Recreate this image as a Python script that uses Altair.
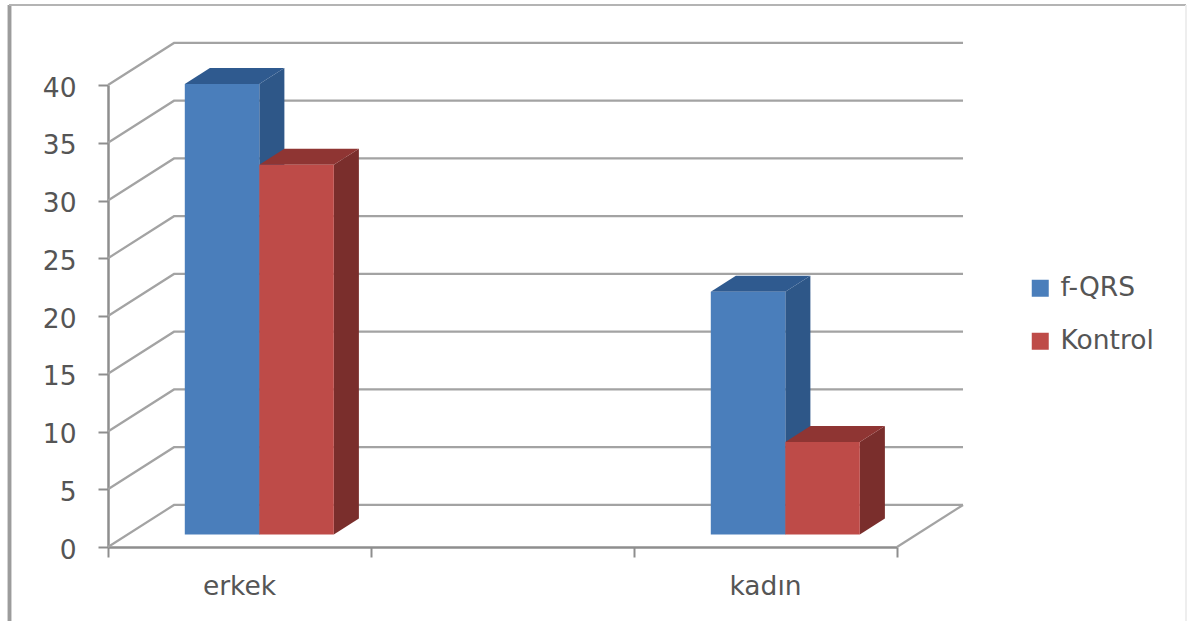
import altair as alt
import pandas as pd

# Chart values
categories = ["erkek", "", "kadın"]
series = ["f-QRS", "Kontrol"]
f_qrs = [39, None, 21]
kontrol = [32, None, 8]
y_ticks = [0, 5, 10, 15, 20, 25, 30, 35, 40]

# Colours per series: front, top and side faces
face_colors = {"f-QRS": "#4A7EBB", "Kontrol": "#BE4B48"}
top_colors = {"f-QRS": "#2F5A8F", "Kontrol": "#8F3533"}
side_colors = {"f-QRS": "#2E5788", "Kontrol": "#7A2E2C"}
GRID = "#A3A3A3"
AXIS = "#8E8E8E"
TEXT = "#555555"
FONT = "DejaVu Sans"
FONT_SIZE = 26.5

# Oblique projection: depth 0..1 shifts a point along x (category units) and y (value units)
DX = 0.251
DV = 3.64
BAR_D0 = 0.30
BAR_D1 = 0.68
BAR_W = 0.2833


def px(x, d):
    return x + d * DX


def pv(v, d):
    return v + d * DV


# Back wall and side wall grid lines, one polyline per tick
grid_rows = []
for v in y_ticks:
    grid_rows.append({"tick": v, "i": 0, "x": px(0, 0), "v": pv(v, 0)})
    grid_rows.append({"tick": v, "i": 1, "x": px(0, 1), "v": pv(v, 1)})
    grid_rows.append({"tick": v, "i": 2, "x": px(3, 1), "v": pv(v, 1)})
grid_df = pd.DataFrame(grid_rows)

# Right-hand edge of the floor
floor_df = pd.DataFrame(
    [{"i": 0, "x": px(3, 0), "v": pv(0, 0)}, {"i": 1, "x": px(3, 1), "v": pv(0, 1)}]
)


def bar_layers(name, values, left_shift):
    """Top, side and front faces for one series."""
    front, side, top = [], [], []
    for idx, (cat, val) in enumerate(zip(categories, values)):
        if val is None:
            continue
        x0 = idx + 0.5 + left_shift * BAR_W
        x1 = x0 + BAR_W
        front.append(
            {
                "series": name,
                "category": cat,
                "x": px(x0, BAR_D0),
                "x2": px(x1, BAR_D0),
                "v": pv(val, BAR_D0),
                "v2": pv(0, BAR_D0),
            }
        )
        for d in (BAR_D0, BAR_D1):
            side.append(
                {"category": cat, "x": px(x1, d), "v": pv(val, d), "v2": pv(0, d)}
            )
            top.append(
                {"category": cat, "x": px(x0, d), "x2": px(x1, d), "v": pv(val, d)}
            )
    side_layer = (
        alt.Chart(pd.DataFrame(side))
        .mark_area(color=side_colors[name], opacity=1)
        .encode(
            x=alt.X("x:Q"),
            y=alt.Y("v:Q"),
            y2="v2:Q",
            detail="category:N",
        )
    )
    top_layer = (
        alt.Chart(pd.DataFrame(top))
        .mark_area(color=top_colors[name], orient="horizontal", opacity=1)
        .encode(
            y=alt.Y("v:Q"),
            x=alt.X("x:Q"),
            x2="x2:Q",
            detail="category:N",
        )
    )
    front_layer = (
        alt.Chart(pd.DataFrame(front))
        .mark_rect()
        .encode(
            x=alt.X("x:Q"),
            x2="x2:Q",
            y=alt.Y("v:Q"),
            y2="v2:Q",
            color=alt.Color(
                "series:N",
                scale=alt.Scale(
                    domain=series, range=[face_colors[s] for s in series]
                ),
                legend=alt.Legend(
                    title=None,
                    orient="none",
                    legendX=919,
                    legendY=190,
                    symbolType="square",
                    symbolSize=289,
                    symbolStrokeWidth=0,
                    labelFont=FONT,
                    labelFontSize=FONT_SIZE,
                    labelColor=TEXT,
                    labelOffset=7,
                    rowPadding=26,
                ),
            ),
        )
    )
    return [side_layer, top_layer, front_layer]


x_scale = alt.Scale(domain=[0, 3], nice=False, zero=False)
y_scale = alt.Scale(domain=[0, 40], nice=False, zero=False)

# Axes are carried by an otherwise invisible base layer
axis_df = pd.DataFrame({"x": [0, 3], "v": [0, 40]})
axes = (
    alt.Chart(axis_df)
    .mark_point(opacity=0)
    .encode(
        x=alt.X(
            "x:Q",
            scale=x_scale,
            title=None,
            axis=alt.Axis(
                values=[0, 1, 2, 3],
                labels=False,
                grid=False,
                domainColor=AXIS,
                domainWidth=2.5,
                tickColor=AXIS,
                tickWidth=2,
                tickSize=10,
            ),
        ),
        y=alt.Y(
            "v:Q",
            scale=y_scale,
            title=None,
            axis=alt.Axis(
                values=y_ticks,
                grid=False,
                domainColor=AXIS,
                domainWidth=2.5,
                tickColor=AXIS,
                tickWidth=2,
                tickSize=10,
                labelFont=FONT,
                labelFontSize=FONT_SIZE,
                labelColor=TEXT,
                labelPadding=22,
                labelOffset=3,
            ),
        ),
    )
)

grid_lines = (
    alt.Chart(grid_df)
    .mark_line(color=GRID, strokeWidth=2.2)
    .encode(x="x:Q", y="v:Q", detail="tick:N", order="i:Q")
)
floor_edge = (
    alt.Chart(floor_df)
    .mark_line(color=GRID, strokeWidth=2.2)
    .encode(x="x:Q", y="v:Q", order="i:Q")
)

# Category names sit under the centre of their band
label_df = pd.DataFrame(
    [
        {"x": i + 0.5, "label": c}
        for i, c in enumerate(categories)
        if c
    ]
)
category_labels = (
    alt.Chart(label_df)
    .mark_text(font=FONT, fontSize=FONT_SIZE, color=TEXT, baseline="middle")
    .encode(x="x:Q", y=alt.value(502), text="label:N")
)

# Thin outer frame of the chart
frame_left = (
    alt.Chart(axis_df)
    .mark_rule(color="#9C9C9C", strokeWidth=3.5)
    .encode(x=alt.value(-98.5), y=alt.value(-80), y2=alt.value(536))
)
frame_top = (
    alt.Chart(axis_df)
    .mark_rule(color="#B4B4B4", strokeWidth=2)
    .encode(x=alt.value(-99), x2=alt.value(1078), y=alt.value(-80))
)
frame_right = (
    alt.Chart(axis_df)
    .mark_rule(color="#EDEDED", strokeWidth=1.5)
    .encode(x=alt.value(1078), y=alt.value(-80), y2=alt.value(536))
)

layers = [frame_left, frame_top, frame_right, grid_lines, floor_edge, axes]
layers += bar_layers("f-QRS", f_qrs, -1)
layers += bar_layers("Kontrol", kontrol, 0)
layers += [category_labels]

chart = (
    alt.layer(*layers)
    .resolve_scale(x="shared", y="shared")
    .properties(
        width=789,
        height=462,
        padding={"left": 108, "top": 85, "right": 292, "bottom": 74},
        autosize=alt.AutoSizeParams(type="none"),
        background="white",
    )
    .configure_view(stroke=None)
)

chart.save("out.html", embed_options={"renderer": "svg", "actions": False})
